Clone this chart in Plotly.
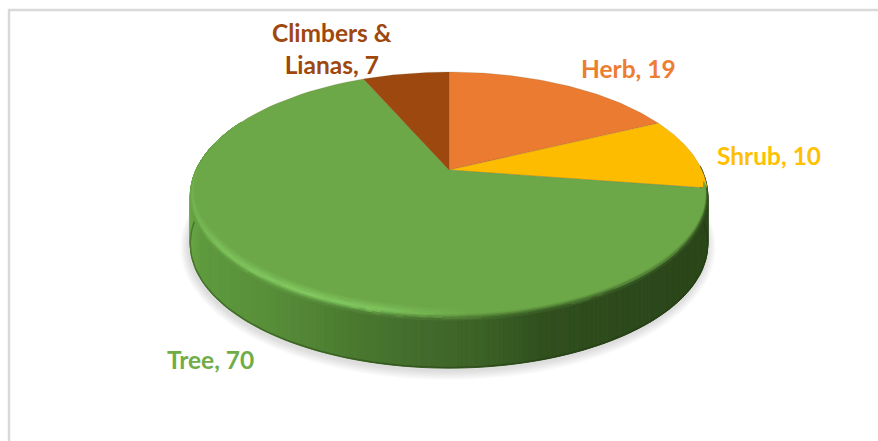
import numpy as np
import plotly.graph_objects as go

categories = ["Herb", "Shrub", "Tree", "Climbers &<br>Lianas"]
values = [19, 10, 70, 7]
face_colors = ["#EA7B31", "#FDBC00", "#6CA748", "#9C480E"]
label_colors = ["#ED7D31", "#FFC000", "#70AD47", "#9E480E"]
label_pos = [(628, 68), (768.5, 155), (210, 359), (332, 48)]

# pixel-space geometry of the tilted disc
CX, CY, A, B, K, DEPTH = 449.0, 170.0, 253.0, 118.6, 0.21, 48.0


def project(theta, r=1.0):
    u, v = r * np.sin(theta), r * np.cos(theta)
    d = 1 + K * v
    return CX + A * u / d, CY - B * v / d


def hex2rgb(h):
    return np.array([int(h[i:i + 2], 16) for i in (1, 3, 5)], float)


def lerp(a, b, t):
    return a + (b - a) * t


side_x = [190, 200, 280, 350, 430, 480, 540, 620, 710]
side_c = np.array([hex2rgb(c) for c in ["#69A646", "#5F9A3F", "#568C38", "#4A7A30", "#42692B",
                                        "#3C6226", "#30501E", "#2D4A1C", "#2C471A"]])


def side_color(x):
    return np.array([np.interp(x, side_x, side_c[:, i]) for i in range(3)])


fig = go.Figure()
common = dict(mode="lines", hoverinfo="skip", showlegend=False)

fracs = np.array(values, float) / sum(values)
edges = np.concatenate([[0], np.cumsum(fracs)]) * 2 * np.pi
tree_start, tree_end = edges[2], edges[3]

# soft shadow
full = np.linspace(0, 2 * np.pi, 241)
sx, sy = project(full)
for grow in np.linspace(9, 1, 9):
    cx, cy = CX, sy.mean() + DEPTH + 2
    xs = cx + (sx - CX) * (1 + grow / 259) - 1
    ys = cy + (sy - sy.mean()) * (1 + grow / 124)
    fig.add_trace(go.Scatter(x=xs, y=ys, fill="toself", fillcolor="rgba(130,130,130,0.035)",
                             line=dict(width=0), **common))

groups = {}


def add_poly(xs, ys, rgb):
    key = tuple((np.round(rgb / 2) * 2).clip(0, 255).astype(int))
    g = groups.setdefault(key, ([], []))
    g[0].extend(list(xs) + [xs[0], None])
    g[1].extend(list(ys) + [ys[0], None])


# extruded wall, split into angular strips
wall = np.linspace(np.radians(88), np.radians(272), 200)
for t0, t1 in zip(wall[:-1], wall[1:]):
    x0, y0 = project(t0)
    x1, y1 = project(t1)
    add_poly([x0, x1, x1, x0], [y0, y1, y1 + DEPTH, y0 + DEPTH], side_color((x0 + x1) / 2))


def flush():
    for key, (xs, ys) in groups.items():
        c = "rgb(%d,%d,%d)" % key
        fig.add_trace(go.Scatter(x=xs, y=ys, fill="toself", fillcolor=c,
                                 line=dict(width=1.0, color=c), **common))
    groups.clear()


flush()

# dark lower edge of the wall
t_front = np.linspace(np.radians(92), np.radians(268), 120)
fx, fy = project(t_front)
fig.add_trace(go.Scatter(x=fx, y=fy + DEPTH - 0.5, line=dict(width=1.5, color="rgba(30,50,15,0.4)"), **common))

# top-face sectors
for i, val in enumerate(values):
    t = np.linspace(edges[i], edges[i + 1], 90)
    px, py = project(t)
    fig.add_trace(go.Scatter(x=[CX, *px, CX], y=[CY, *py, CY], fill="toself",
                             fillcolor=face_colors[i],
                             line=dict(width=0.6, color="rgba(110,90,40,0.3)"), **common))

# bevel round the front of the tree sector
face = hex2rgb(face_colors[2])
light = hex2rgb("#84CB62")
levels = np.linspace(0, 1, 11)
bevel = np.linspace(tree_start + 0.01, np.radians(296), 140)


def rim_point(t, q):
    ox, oy = project(t)
    ix, iy = project(t, 0.985)
    depth = 11 * np.clip(-np.cos(t) + 0.45, 0, 1) ** 0.8
    iy = iy - depth
    return lerp(ix, ox, q), lerp(iy, oy, q)


for t0, t1 in zip(bevel[:-1], bevel[1:]):
    tm = (t0 + t1) / 2
    x_mid, _ = project(tm)
    h = np.interp(x_mid, [190, 215, 300, 380, 470], [0.35, 0.75, 1.0, 0.85, 0.0])
    fade = np.interp(tm, np.radians([268, 296]), [0, 1])
    top = lerp(side_color(x_mid), face, fade)
    lit = lerp(face, light, h * (1 - fade))
    for q0, q1 in zip(levels[:-1], levels[1:]):
        q = (q0 + q1) / 2
        rgb = lerp(lerp(face, lit, min(q / 0.6, 1)), top, max(q - 0.6, 0) / 0.4)
        xa, ya = rim_point(t0, q0)
        xb, yb = rim_point(t1, q0)
        xc, yc = rim_point(t1, q1)
        xd, yd = rim_point(t0, q1)
        add_poly([xa, xb, xc, xd], [ya, yb, yc, yd], rgb)
flush()

# data labels
for name, val, col, (lx, ly) in zip(categories, values, label_colors, label_pos):
    fig.add_annotation(x=lx, y=ly, text=f"<b>{name}, {val}</b>", showarrow=False,
                       font=dict(family="Lato", size=24.5, color=col), align="center",
                       xref="x", yref="y")

# chart frame (top and left edges only)
fig.add_shape(type="line", x0=9, x1=9, y0=9.5, y1=441, xref="x", yref="y",
              line=dict(color="#D9D9D9", width=2.5))
fig.add_shape(type="line", x0=8, x1=878, y0=10, y1=10, xref="x", yref="y",
              line=dict(color="#D9D9D9", width=2.5))

fig.update_layout(
    width=878, height=441, margin=dict(l=0, r=0, t=0, b=0), showlegend=False,
    paper_bgcolor="white", plot_bgcolor="white",
    xaxis=dict(range=[0, 878], visible=False, fixedrange=True),
    yaxis=dict(range=[441, 0], visible=False, fixedrange=True),
)
fig.write_html("out.html", config=dict(displayModeBar=False),
               post_script="document.body.style.margin='0';document.body.style.overflow='hidden';")
